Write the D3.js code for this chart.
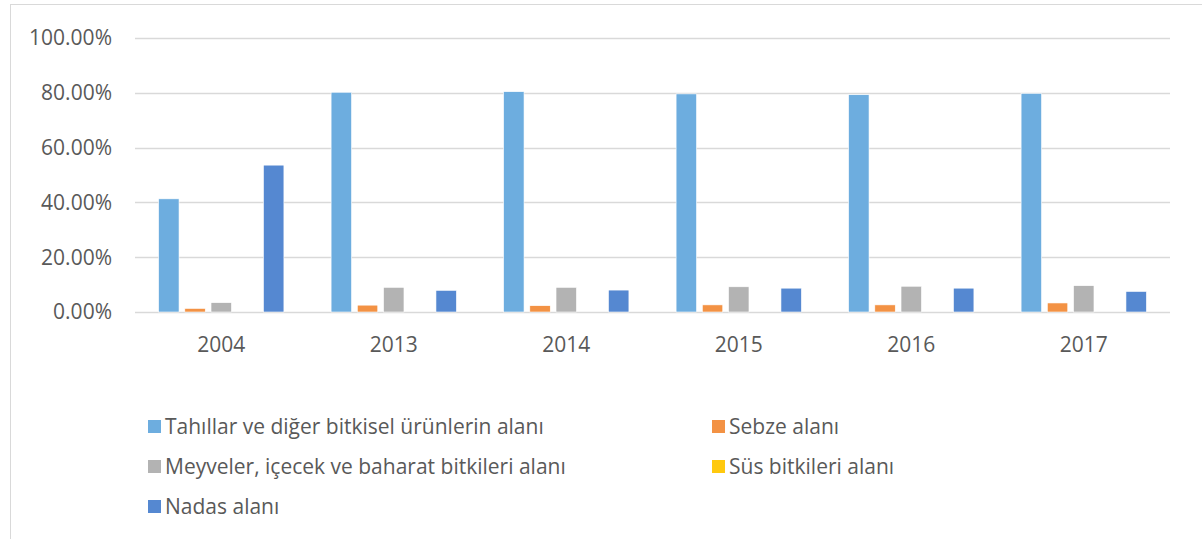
<!DOCTYPE html>
<html lang="tr">
<head>
<meta charset="UTF-8">
<title>Alan dağılımı</title>
<style>
    body { margin: 0; padding: 0; background: #fff; }
    svg text { font-family: "Open Sans", Lato, sans-serif; fill: #595959; }
</style>
</head>
<body>
<svg id="chart" width="1202" height="539"></svg>
<script src="https://d3js.org/d3.v7.min.js"></script>
<script>
const years = ["2004", "2013", "2014", "2015", "2016", "2017"];
const seriesNames = [
    "Tahıllar ve diğer bitkisel ürünlerin alanı",
    "Sebze alanı",
    "Meyveler, içecek ve baharat bitkileri alanı",
    "Süs bitkileri alanı",
    "Nadas alanı"
];
const seriesColors = ["#6DADDF", "#F39244", "#B3B3B3", "#FFC90E", "#5588D1"];
// values in percent
const tahillar = [41.3, 80.2, 80.4, 79.6, 79.3, 79.8];
const sebze = [1.3, 2.5, 2.3, 2.6, 2.6, 3.3];
const meyveler = [3.4, 9.0, 9.0, 9.2, 9.4, 9.6];
const sus = [0, 0, 0, 0, 0, 0];
const nadas = [53.6, 7.9, 8.0, 8.7, 8.7, 7.5];
const yTicks = [0, 20, 40, 60, 80, 100];

const series = [tahillar, sebze, meyveler, sus, nadas];

const svg = d3.select("#chart");

// outer chart border
svg.append("rect")
    .attr("x", 10.5).attr("y", 4.5)
    .attr("width", 1300).attr("height", 600)
    .attr("fill", "none").attr("stroke", "#d9d9d9");

const plot = {left: 135, right: 1170, top: 38, bottom: 312};

const x = d3.scaleBand().domain(years).range([plot.left, plot.right]);
const xInner = d3.scaleBand().domain(d3.range(series.length))
    .range([0, x.bandwidth()]).paddingInner(0.22).paddingOuter(0.9);
const y = d3.scaleLinear().domain([0, 100]).range([plot.bottom, plot.top]);

// gridlines
svg.append("g").selectAll("line").data(yTicks).join("line")
    .attr("x1", plot.left).attr("x2", plot.right)
    .attr("y1", d => Math.round(y(d)) + 0.5).attr("y2", d => Math.round(y(d)) + 0.5)
    .attr("stroke", "#d9d9d9").attr("stroke-width", 1.3);

// y labels
svg.append("g").selectAll("text").data(yTicks).join("text")
    .attr("x", 112).attr("y", d => y(d))
    .attr("dy", "0.35em").attr("text-anchor", "end")
    .attr("font-size", 21)
    .text(d => d.toFixed(2) + "%");

// bars
const groups = svg.append("g").selectAll("g").data(years).join("g")
    .attr("transform", d => "translate(" + x(d) + ",0)");

groups.selectAll("rect")
    .data((yr, i) => series.map((s, k) => ({k: k, v: s[i]})))
    .join("rect")
    .attr("x", d => xInner(d.k))
    .attr("width", xInner.bandwidth())
    .attr("y", d => y(d.v))
    .attr("height", d => plot.bottom - y(d.v))
    .attr("fill", d => seriesColors[d.k])
    .attr("stroke", "#fff").attr("stroke-width", 0.6);

// x labels
svg.append("g").selectAll("text").data(years).join("text")
    .attr("x", d => x(d) + x.bandwidth() / 2)
    .attr("y", 345).attr("dy", "0.35em")
    .attr("text-anchor", "middle")
    .attr("font-size", 21)
    .text(d => d);

// legend
const legendPos = [[148, 427], [712, 427], [148, 467], [712, 467], [148, 507]];
const legend = svg.append("g").selectAll("g").data(seriesNames).join("g")
    .attr("transform", (d, i) => "translate(" + legendPos[i][0] + "," + legendPos[i][1] + ")");
legend.append("rect")
    .attr("x", 0).attr("y", -7).attr("width", 13).attr("height", 13)
    .attr("fill", (d, i) => seriesColors[i]);
legend.append("text")
    .attr("x", 17).attr("y", 0).attr("dy", "0.35em")
    .attr("font-size", 21)
    .text(d => d);
</script>
</body>
</html>
